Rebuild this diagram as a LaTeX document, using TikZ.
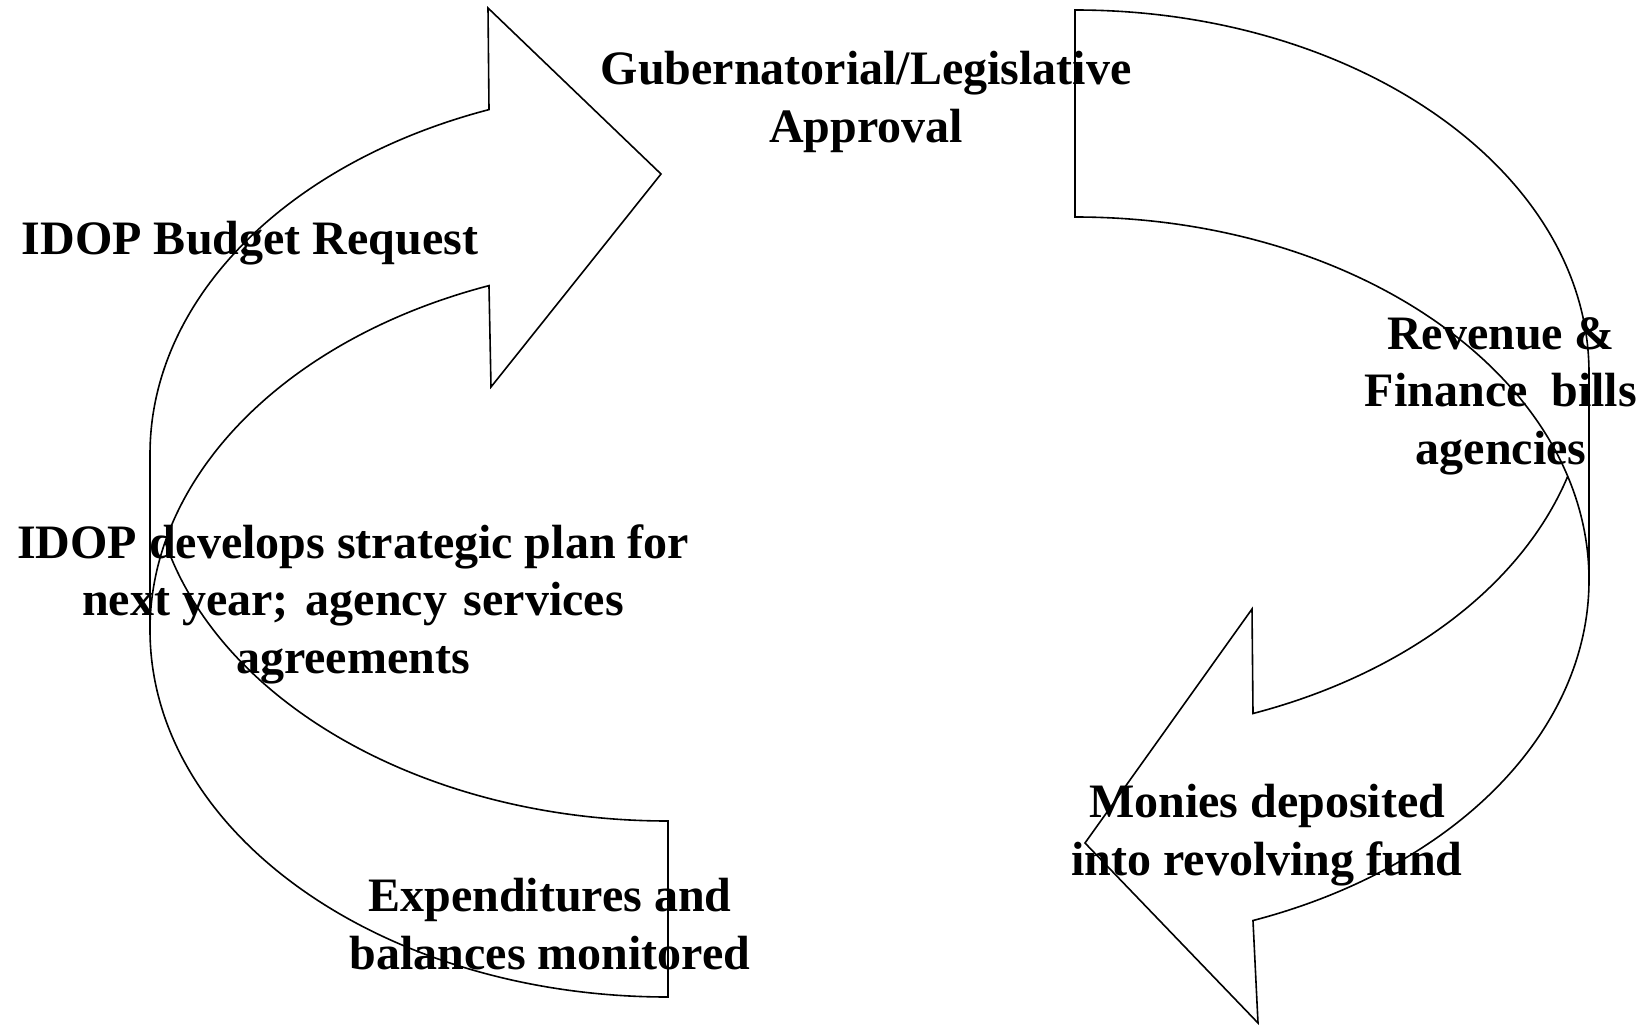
\documentclass[tikz,border=0pt]{standalone}
\usepackage{fontspec}
\setmainfont{Liberation Serif}
\usepackage{tikz}

\begin{document}
\begin{tikzpicture}[x=1pt, y=-1pt, line width=1.6pt]
\tikzset{lbl/.style = {align=center, inner sep=0pt, font=\fontsize{48}{57.5}\selectfont\bfseries}}
\tikzset{band/.style = {draw, line join=miter}}
\useasboundingbox (0,0) rectangle (1644,1025);

% left arrow
\draw[band] (150,630) arc[start angle=180, end angle=249.78, x radius=518, y radius=367]
  -- (491,387) -- (661,174) -- (488,8) -- (489,109.6)
  arc[start angle=249.78, end angle=180, x radius=518, y radius=367]
  -- (150,630)
  arc[start angle=180, end angle=90, x radius=518, y radius=367]
  -- (668,821)
  arc[start angle=90, end angle=166.13, x radius=518, y radius=367];

% right arrow
\draw[band] (1589,580) arc[start angle=0, end angle=-90, x radius=514, y radius=363]
  -- (1075,10)
  arc[start angle=-90, end angle=0, x radius=514, y radius=363]
  -- (1589,580)
  arc[start angle=0, end angle=69.74, x radius=514, y radius=363]
  -- (1258,1023) -- (1085,843) -- (1252,609) -- (1253,713.5)
  arc[start angle=69.74, end angle=16.57, x radius=514, y radius=363];

% labels
\node[lbl] (approval) at (866,102) {Gubernatorial/Legislative\\Approval};
\node[lbl] (request) at (250,243) {IDOP Budget Request};
\node[lbl] (plan) at (353,604) {IDOP develops strategic plan for\\next year;\hspace{0.35em}agency\hspace{0.35em}services\\agreements};
\node[lbl] (monitor) at (550,924) {Expenditures and\\balances monitored};
\node[lbl] (bills) at (1501,396) {Revenue \&\\Finance\ \ bills\\agencies};
\node[lbl] (deposit) at (1267,835) {Monies deposited\\into revolving fund};

\end{tikzpicture}
\end{document}
